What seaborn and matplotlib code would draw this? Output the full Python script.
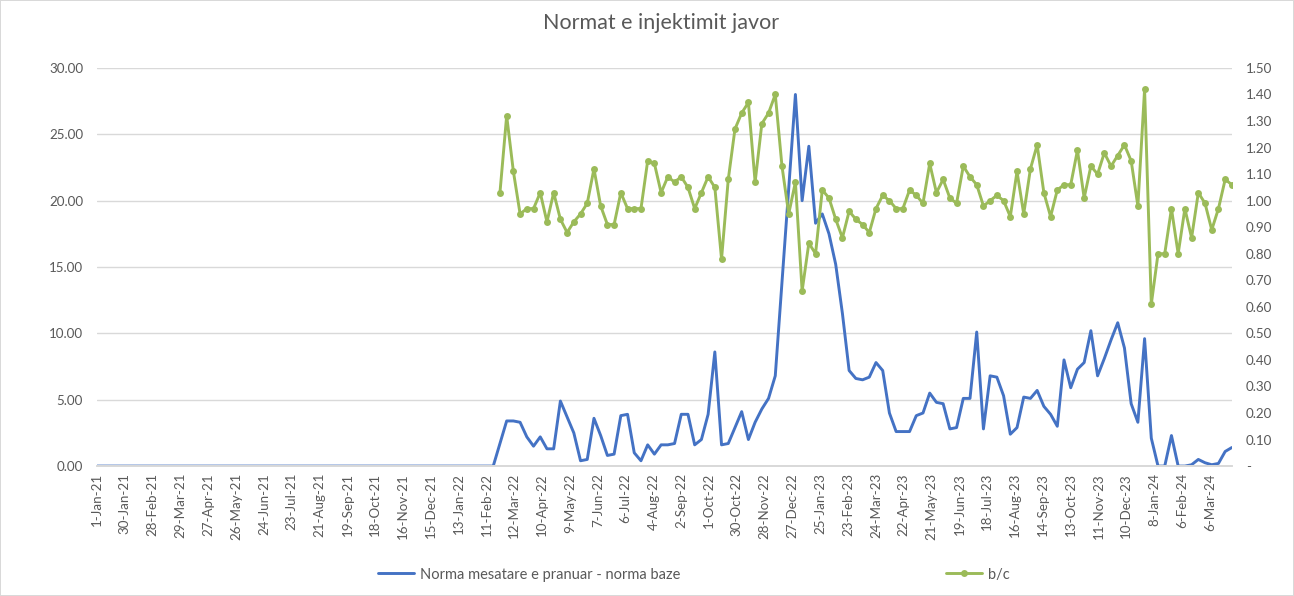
import numpy as np
import pandas as pd
import matplotlib
matplotlib.use("Agg")
import matplotlib.pyplot as plt
import matplotlib.dates as mdates
import seaborn as sns

# Weekly series, starting 1 Jan 2021
start_date = "2021-01-01"
n_weeks = 170

# Average accepted rate minus base rate (left axis)
rate_diff = [0.0] * 60 + [
    1.7, 3.4, 3.4, 3.3, 2.2, 1.5, 2.2, 1.3, 1.3, 4.9,
    3.7, 2.5, 0.4, 0.5, 3.6, 2.3, 0.8, 0.9, 3.8, 3.9,
    1.0, 0.4, 1.6, 0.9, 1.6, 1.6, 1.7, 3.9, 3.9, 1.6,
    2.0, 3.9, 8.6, 1.6, 1.7, 2.9, 4.1, 2.0, 3.3, 4.3,
    5.1, 6.8, 13.8, 20.9, 28.0, 20.0, 24.1, 18.3, 19.0, 17.5,
    15.2, 11.5, 7.2, 6.6, 6.5, 6.7, 7.8, 7.2, 4.0, 2.6,
    2.6, 2.6, 3.8, 4.0, 5.5, 4.8, 4.7, 2.8, 2.9, 5.1,
    5.1, 10.1, 2.8, 6.8, 6.7, 5.3, 2.4, 2.9, 5.2, 5.1,
    5.7, 4.5, 3.9, 3.0, 8.0, 5.9, 7.3, 7.8, 10.2, 6.8,
    8.1, 9.5, 10.8, 8.9, 4.7, 3.3, 9.6, 2.1, 0.0, 0.0,
    2.3, 0.0, 0.0, 0.1, 0.5, 0.25, 0.1, 0.2, 1.1, 1.4,
]

# b/c ratio (right axis)
bc_ratio = [np.nan] * 60 + [
    1.03, 1.32, 1.11, 0.95, 0.97, 0.97, 1.03, 0.92, 1.03, 0.93,
    0.88, 0.92, 0.95, 0.99, 1.12, 0.98, 0.91, 0.91, 1.03, 0.97,
    0.97, 0.97, 1.15, 1.14, 1.03, 1.09, 1.07, 1.09, 1.05, 0.97,
    1.03, 1.09, 1.05, 0.78, 1.08, 1.27, 1.33, 1.37, 1.07, 1.29,
    1.33, 1.40, 1.13, 0.95, 1.07, 0.66, 0.84, 0.80, 1.04, 1.01,
    0.93, 0.86, 0.96, 0.93, 0.91, 0.88, 0.97, 1.02, 1.00, 0.97,
    0.97, 1.04, 1.02, 0.99, 1.14, 1.03, 1.08, 1.01, 0.99, 1.13,
    1.09, 1.06, 0.98, 1.00, 1.02, 1.00, 0.94, 1.11, 0.95, 1.12,
    1.21, 1.03, 0.94, 1.04, 1.06, 1.06, 1.19, 1.01, 1.13, 1.10,
    1.18, 1.13, 1.17, 1.21, 1.15, 0.98, 1.42, 0.61, 0.80, 0.80,
    0.97, 0.80, 0.97, 0.86, 1.03, 0.99, 0.89, 0.97, 1.08, 1.06,
]

x_tick_labels = [
    "1-Jan-21", "30-Jan-21", "28-Feb-21", "29-Mar-21", "27-Apr-21", "26-May-21",
    "24-Jun-21", "23-Jul-21", "21-Aug-21", "19-Sep-21", "18-Oct-21", "16-Nov-21",
    "15-Dec-21", "13-Jan-22", "11-Feb-22", "12-Mar-22", "10-Apr-22", "9-May-22",
    "7-Jun-22", "6-Jul-22", "4-Aug-22", "2-Sep-22", "1-Oct-22", "30-Oct-22",
    "28-Nov-22", "27-Dec-22", "25-Jan-23", "23-Feb-23", "24-Mar-23", "22-Apr-23",
    "21-May-23", "19-Jun-23", "18-Jul-23", "16-Aug-23", "14-Sep-23", "13-Oct-23",
    "11-Nov-23", "10-Dec-23", "8-Jan-24", "6-Feb-24", "6-Mar-24",
]
left_ticks = [0, 5, 10, 15, 20, 25, 30]
right_ticks = [0.0, 0.1, 0.2, 0.3, 0.4, 0.5, 0.6, 0.7, 0.8, 0.9, 1.0,
               1.1, 1.2, 1.3, 1.4, 1.5]

title = "Normat e injektimit javor"
label_rate = "Norma mesatare e pranuar - norma baze"
label_bc = "b/c"

BLUE = "#4472C4"
GREEN = "#9BBB59"
TEXT = "#595959"
GRID = "#D9D9D9"

df = pd.DataFrame({
    "week": pd.date_range(start_date, periods=n_weeks, freq="7D"),
    "rate": rate_diff,
    "bc": bc_ratio,
})

sns.set_theme(style="white")
plt.rcParams["font.family"] = ["Lato", "DejaVu Sans"]

fig = plt.figure(figsize=(12.94, 5.96), dpi=100,
                 edgecolor=GRID, linewidth=1.2)
ax = fig.add_axes([0.075, 0.218, 0.877, 0.668])
ax2 = ax.twinx()

sns.lineplot(data=df, x="week", y="rate", ax=ax, color=BLUE,
             linewidth=2.1, label=label_rate, legend=False)
sns.lineplot(data=df.dropna(subset=["bc"]), x="week", y="bc", ax=ax2,
             color=GREEN, linewidth=2.1, marker="o", markersize=5,
             markeredgewidth=0, label=label_bc, legend=False)

# date axis spans exactly the first to the last week
ax.set_xlim(df["week"].iloc[0], df["week"].iloc[-1])
ax.set_ylim(0, 30)
ax2.set_ylim(0, 1.5)

# horizontal gridlines on the left scale
ax.set_yticks(left_ticks)
ax.set_yticklabels([f"{v:.2f}" for v in left_ticks])
ax.yaxis.grid(True, color=GRID, linewidth=1)
ax.xaxis.grid(False)
ax2.grid(False)
ax.set_axisbelow(True)

ax2.set_yticks(right_ticks)
ax2.set_yticklabels(["-" if v == 0 else f"{v:.2f}" for v in right_ticks])

tick_dates = pd.to_datetime(x_tick_labels, format="%d-%b-%y")
ax.set_xticks(mdates.date2num(tick_dates))
ax.set_xticklabels(x_tick_labels, rotation=90)

for a in (ax, ax2):
    for side in ("top", "left", "right"):
        a.spines[side].set_visible(False)
    a.spines["bottom"].set_color(GRID)
    a.set_xlabel("")
    a.set_ylabel("")
    a.tick_params(axis="both", length=0, colors=TEXT, labelsize=9.6)
ax.tick_params(axis="y", pad=10)
ax2.tick_params(axis="y", pad=10)
ax.tick_params(axis="x", pad=5)

fig.text(0.511, 0.962, title, ha="center", va="center",
         fontsize=15.5, color=TEXT)

h1, l1 = ax.get_legend_handles_labels()
h2, l2 = ax2.get_legend_handles_labels()
fig.legend(h1 + h2, l1 + l2, loc="center", bbox_to_anchor=(0.536, 0.036),
           ncol=2, frameon=False, columnspacing=18.2, handlelength=2.5,
           handletextpad=0.4, fontsize=10.5, labelcolor=TEXT)

fig.savefig("out.png", dpi=100, edgecolor=fig.get_edgecolor(),
            facecolor="white")
